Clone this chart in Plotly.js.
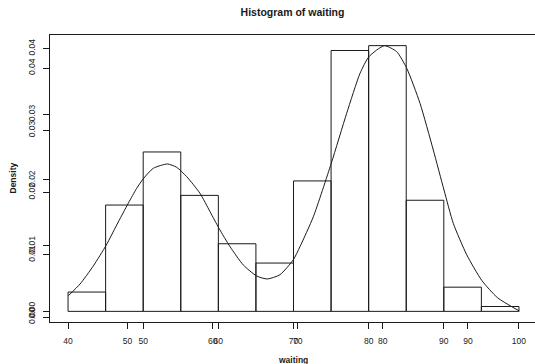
<!DOCTYPE html>
<html>
<head>
<meta charset="utf-8">
<script src="https://cdn.plot.ly/plotly-3.0.1.min.js"></script>
<style>html,body{margin:0;padding:0;background:#fff;}#chart{width:535px;height:364px;}</style>
</head>
<body>
<div id="chart"></div>
<script>
// Histogram (first coordinate system)
var breaks = [40, 45, 50, 55, 60, 65, 70, 75, 80, 85, 90, 95, 100];
var densities = [0.00294, 0.01618, 0.02426, 0.01765, 0.01029, 0.00735, 0.01985, 0.0397, 0.04044, 0.01691, 0.00368, 0.00074];
var histTicksX = [40, 50, 60, 70, 80, 90, 100];
var histTicksY = [0, 0.01, 0.02, 0.03, 0.04];
var histTicksYText = ["0.00", "0.01", "0.02", "0.03", "0.04"];

// Fitted curve (second coordinate system, overlaid)
var curveX = [43.03, 44.41, 45.97, 47.50, 48.72, 50.08, 51.07, 51.89, 53.02, 54.67, 55.77, 56.95, 58.51, 59.69, 60.74, 62.04, 63.60, 65.17, 66.42, 67.91, 69.48, 70.26, 71.83, 73.94, 75.75, 77.32, 78.37, 80.17, 81.63, 82.81, 84.37, 85.93, 87.19, 88.28, 89.86, 91.62, 93.48, 96.04];
var curveY = [0.00342, 0.00530, 0.00820, 0.01157, 0.01478, 0.01827, 0.02068, 0.02228, 0.02389, 0.02458, 0.02405, 0.02254, 0.01987, 0.01692, 0.01425, 0.01130, 0.00836, 0.00659, 0.00611, 0.00680, 0.00920, 0.01130, 0.01610, 0.02470, 0.03272, 0.03915, 0.04182, 0.04358, 0.04262, 0.03995, 0.03433, 0.02683, 0.02040, 0.01505, 0.01000, 0.00590, 0.00310, 0.00097];
var curveTicksX = [50, 60, 70, 80, 90];
var curveTicksY = [0, 0.01, 0.02, 0.03, 0.04];
var curveTicksYText = ["0.00", "0.01", "0.02", "0.03", "0.04"];

var centers = [], widths = [];
for (var i = 0; i < densities.length; i++) {
  centers.push((breaks[i] + breaks[i + 1]) / 2);
  widths.push(breaks[i + 1] - breaks[i]);
}

var ink = '#1a1a1a';
var fontFam = 'Liberation Sans, Arial, Helvetica, sans-serif';

var traces = [
  {
    type: 'bar', x: centers, y: densities, width: widths,
    marker: {color: 'rgba(255,255,255,0)', line: {color: ink, width: 1}},
    xaxis: 'x', yaxis: 'y', hoverinfo: 'x+y', showlegend: false
  },
  {
    type: 'scatter', mode: 'lines', x: curveX, y: curveY,
    line: {color: ink, width: 1, shape: 'spline', smoothing: 0.6},
    xaxis: 'x2', yaxis: 'y2', showlegend: false
  }
];

var axBase = {
  ticks: 'outside', ticklen: 6, tickwidth: 1, tickcolor: ink,
  showgrid: false, zeroline: false, fixedrange: true,
  tickfont: {family: fontFam, size: 8.5, color: ink}
};

function merge(a, b) { var o = {}; for (var k in a) o[k] = a[k]; for (var k2 in b) o[k2] = b[k2]; return o; }

var layout = {
  width: 535, height: 364,
  margin: {l: 50, r: 0, t: 35, b: 42, pad: 0},
  paper_bgcolor: '#fff', plot_bgcolor: '#fff',
  showlegend: false,
  bargap: 0,
  title: {text: '<b>Histogram of waiting</b>', font: {family: fontFam, size: 10.5, color: ink}, x: 0.5, xref: 'paper', xanchor: 'center', y: 1, yref: 'container', yanchor: 'top', pad: {t: 9}},
  xaxis: merge(axBase, {
    range: [37.6, 102.134], tickmode: 'array', tickvals: histTicksX, ticktext: histTicksX.map(String),
    showline: true, linecolor: ink, linewidth: 1, mirror: true, ticklabelstandoff: 5
  }),
  xaxis2: merge(axBase, {
    range: [40.88, 97.885], overlaying: 'x', side: 'bottom', anchor: 'y',
    tickmode: 'array', tickvals: curveTicksX, ticktext: curveTicksX.map(String),
    showline: false, ticklabelstandoff: 5
  }),
  yaxis: merge(axBase, {
    range: [-0.00162, 0.04206], tickmode: 'array', tickvals: histTicksY, ticktext: histTicksYText,
    tickangle: -90, showline: true, linecolor: ink, linewidth: 1, mirror: false, ticklabelstandoff: 5
  }),
  yaxis2: merge(axBase, {
    range: [-0.0008, 0.0453], overlaying: 'y', side: 'left', anchor: 'x',
    tickmode: 'array', tickvals: curveTicksY, ticktext: curveTicksYText,
    tickangle: -90, showline: false, ticklabelstandoff: 5
  }),
  annotations: [
    {text: '<b>waiting</b>', xref: 'paper', yref: 'paper', x: 0.5, y: 0, xanchor: 'center', yanchor: 'middle', yshift: -38, showarrow: false, font: {family: fontFam, size: 8.5, color: ink}},
    {text: '<b>Density</b>', xref: 'paper', yref: 'paper', x: 0, y: 0.5, xanchor: 'center', yanchor: 'middle', xshift: -38, textangle: -90, showarrow: false, font: {family: fontFam, size: 8.5, color: ink}}
  ]
};

Plotly.newPlot('chart', traces, layout, {displayModeBar: false, staticPlot: true});
</script>
</body>
</html>
